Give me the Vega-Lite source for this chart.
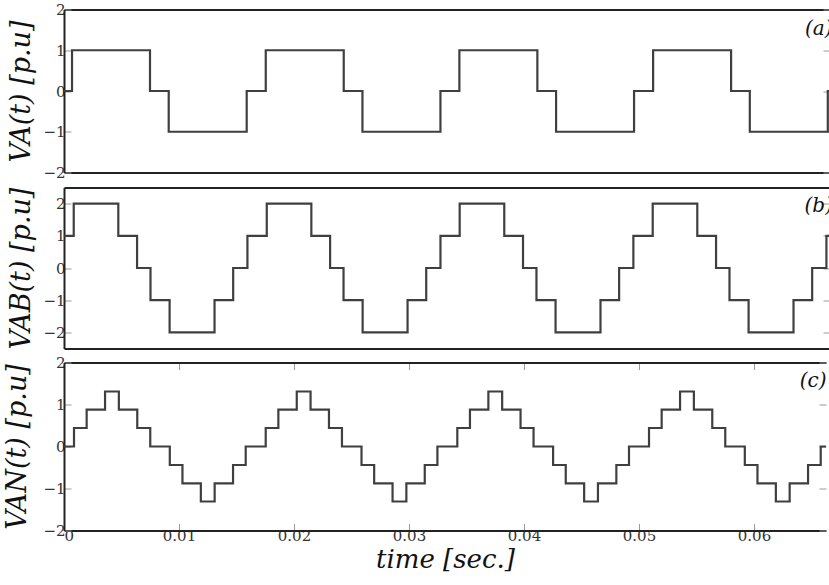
{
  "$schema": "https://vega.github.io/schema/vega-lite/v6.json",
  "background": "white",
  "autosize": {"type": "pad"},
  "padding": {"left": 3, "top": 2.5, "right": 0, "bottom": 0},
  "datasets": {
    "a": [
      {"t": 0, "v": 0}, {"t": 0.00069, "v": 1}, {"t": 0.0074, "v": 0}, {"t": 0.00901, "v": -1}, {"t": 0.01572, "v": 0},
      {"t": 0.01736, "v": 1}, {"t": 0.02407, "v": 0}, {"t": 0.02568, "v": -1}, {"t": 0.03239, "v": 0},
      {"t": 0.03402, "v": 1}, {"t": 0.04073, "v": 0}, {"t": 0.04234, "v": -1}, {"t": 0.04905, "v": 0},
      {"t": 0.05069, "v": 1}, {"t": 0.0574, "v": 0}, {"t": 0.05901, "v": -1}, {"t": 0.06572, "v": 0},
      {"t": 0.0667, "v": 0}
    ],
    "b": [
      {"t": 0, "v": 1}, {"t": 0.00084, "v": 2}, {"t": 0.00469, "v": 1}, {"t": 0.00631, "v": 0}, {"t": 0.00747, "v": -1}, {"t": 0.00912, "v": -2}, {"t": 0.013, "v": -1}, {"t": 0.01461, "v": 0}, {"t": 0.01584, "v": 1},
      {"t": 0.01751, "v": 2}, {"t": 0.02136, "v": 1}, {"t": 0.02298, "v": 0}, {"t": 0.02414, "v": -1}, {"t": 0.02579, "v": -2}, {"t": 0.02967, "v": -1}, {"t": 0.03128, "v": 0}, {"t": 0.03251, "v": 1},
      {"t": 0.03417, "v": 2}, {"t": 0.03802, "v": 1}, {"t": 0.03964, "v": 0}, {"t": 0.0408, "v": -1}, {"t": 0.04245, "v": -2}, {"t": 0.04633, "v": -1}, {"t": 0.04794, "v": 0}, {"t": 0.04917, "v": 1},
      {"t": 0.05084, "v": 2}, {"t": 0.05469, "v": 1}, {"t": 0.05631, "v": 0}, {"t": 0.05747, "v": -1}, {"t": 0.05912, "v": -2}, {"t": 0.063, "v": -1}, {"t": 0.06461, "v": 0}, {"t": 0.06584, "v": 1},
      {"t": 0.0667, "v": 1}
    ],
    "c": [
      {"t": 0, "v": 0}, {"t": 0.00087, "v": 0.44}, {"t": 0.00197, "v": 0.88}, {"t": 0.00357, "v": 1.31}, {"t": 0.00477, "v": 0.88}, {"t": 0.00637, "v": 0.44}, {"t": 0.0075, "v": 0}, {"t": 0.0092, "v": -0.44}, {"t": 0.0103, "v": -0.88}, {"t": 0.0119, "v": -1.31}, {"t": 0.0131, "v": -0.88}, {"t": 0.0147, "v": -0.44}, {"t": 0.0158, "v": 0},
      {"t": 0.01754, "v": 0.44}, {"t": 0.01864, "v": 0.88}, {"t": 0.02024, "v": 1.31}, {"t": 0.02144, "v": 0.88}, {"t": 0.02304, "v": 0.44}, {"t": 0.02417, "v": 0}, {"t": 0.02587, "v": -0.44}, {"t": 0.02697, "v": -0.88}, {"t": 0.02857, "v": -1.31}, {"t": 0.02977, "v": -0.88}, {"t": 0.03137, "v": -0.44}, {"t": 0.03247, "v": 0},
      {"t": 0.0342, "v": 0.44}, {"t": 0.0353, "v": 0.88}, {"t": 0.0369, "v": 1.31}, {"t": 0.0381, "v": 0.88}, {"t": 0.0397, "v": 0.44}, {"t": 0.04083, "v": 0}, {"t": 0.04253, "v": -0.44}, {"t": 0.04363, "v": -0.88}, {"t": 0.04523, "v": -1.31}, {"t": 0.04643, "v": -0.88}, {"t": 0.04803, "v": -0.44}, {"t": 0.04913, "v": 0},
      {"t": 0.05087, "v": 0.44}, {"t": 0.05197, "v": 0.88}, {"t": 0.05357, "v": 1.31}, {"t": 0.05477, "v": 0.88}, {"t": 0.05637, "v": 0.44}, {"t": 0.0575, "v": 0}, {"t": 0.0592, "v": -0.44}, {"t": 0.0603, "v": -0.88}, {"t": 0.0619, "v": -1.31}, {"t": 0.0631, "v": -0.88}, {"t": 0.0647, "v": -0.44}, {"t": 0.0658, "v": 0},
      {"t": 0.0667, "v": 0}
    ]
  },
  "columns": 1,
  "align": "none",
  "spacing": 6,
  "concat": [
    {
      "width": 766,
      "height": 163,
      "layer": [
        {
          "data": {"name": "a"},
          "mark": {"type": "line", "interpolate": "step-after", "clip": true, "color": "#3f3f3f", "strokeWidth": 2.2},
          "encoding": {
            "x": {"field": "t", "type": "quantitative", "scale": {"domain": [0, 0.06591], "nice": false, "zero": false}, "axis": {"orient": "bottom", "ticks": false, "labels": false, "title": null}},
            "y": {"field": "v", "type": "quantitative", "scale": {"domain": [-2, 2], "nice": false, "zero": false}, "axis": {"orient": "left", "values": [-2, -1, 0, 1, 2], "title": "VA(t) [p.u]"}}
          }
        },
        {
          "data": {"values": [{}]},
          "mark": {"type": "text", "clip": true, "font": "DejaVu Serif", "fontStyle": "italic", "fontSize": 20, "align": "left", "baseline": "middle", "color": "#111"},
          "encoding": {
            "x": {"datum": 0.06376, "type": "quantitative", "axis": {"orient": "top", "ticks": false, "labels": false, "title": null}},
            "y": {"datum": 1.51, "type": "quantitative", "axis": {"orient": "right", "values": [-2, -1, 0, 1, 2], "labels": false, "domain": false, "title": null}},
            "text": {"value": "(a)"}
          }
        }
      ],
      "resolve": {"axis": {"x": "independent", "y": "independent"}}
    },
    {
      "width": 766,
      "height": 161,
      "layer": [
        {
          "data": {"name": "b"},
          "mark": {"type": "line", "interpolate": "step-after", "clip": true, "color": "#3f3f3f", "strokeWidth": 2.2},
          "encoding": {
            "x": {"field": "t", "type": "quantitative", "scale": {"domain": [0, 0.06615], "nice": false, "zero": false}, "axis": {"orient": "bottom", "ticks": false, "labels": false, "title": null}},
            "y": {"field": "v", "type": "quantitative", "scale": {"domain": [-2.5, 2.5], "nice": false, "zero": false}, "axis": {"orient": "left", "values": [-2, -1, 0, 1, 2], "title": "VAB(t) [p.u]"}}
          }
        },
        {
          "data": {"values": [{}]},
          "mark": {"type": "text", "clip": true, "font": "DejaVu Serif", "fontStyle": "italic", "fontSize": 20, "align": "left", "baseline": "middle", "color": "#111"},
          "encoding": {
            "x": {"datum": 0.06395, "type": "quantitative", "axis": {"orient": "top", "ticks": false, "labels": false, "title": null}},
            "y": {"datum": 1.93, "type": "quantitative", "axis": {"orient": "right", "values": [-2, -1, 0, 1, 2], "labels": false, "domain": false, "title": null}},
            "text": {"value": "(b)"}
          }
        }
      ],
      "resolve": {"axis": {"x": "independent", "y": "independent"}}
    },
    {
      "width": 762,
      "height": 168,
      "layer": [
        {
          "data": {"name": "c"},
          "mark": {"type": "line", "interpolate": "step-after", "clip": true, "color": "#3f3f3f", "strokeWidth": 2.2},
          "encoding": {
            "x": {"field": "t", "type": "quantitative", "scale": {"domain": [0, 0.06626], "nice": false, "zero": false}, "axis": {"orient": "bottom", "values": [0, 0.01, 0.02, 0.03, 0.04, 0.05, 0.06], "format": "~g", "labelPadding": 5, "title": "time [sec.]", "titleFontSize": 26, "titlePadding": 3}},
            "y": {"field": "v", "type": "quantitative", "scale": {"domain": [-2, 2], "nice": false, "zero": false}, "axis": {"orient": "left", "values": [-2, -1, 0, 1, 2], "title": "VAN(t) [p.u]", "titlePadding": 10.9}}
          }
        },
        {
          "data": {"values": [{}]},
          "mark": {"type": "text", "clip": true, "font": "DejaVu Serif", "fontStyle": "italic", "fontSize": 20, "align": "left", "baseline": "middle", "color": "#111"},
          "encoding": {
            "x": {"datum": 0.06397, "type": "quantitative", "axis": {"orient": "top", "values": [0.01, 0.02, 0.03, 0.04, 0.05, 0.06], "labels": false, "title": null}},
            "y": {"datum": 1.55, "type": "quantitative", "axis": {"orient": "right", "values": [-2, -1, 0, 1, 2], "labels": false, "domain": false, "title": null}},
            "text": {"value": "(c)"}
          }
        }
      ],
      "resolve": {"axis": {"x": "independent", "y": "independent"}}
    }
  ],
  "config": {
    "view": {"stroke": null},
    "axis": {
      "grid": false,
      "labelFont": "DejaVu Serif",
      "labelFontSize": 15,
      "labelColor": "#333333",
      "labelPadding": 6,
      "titleFont": "DejaVu Serif",
      "titleFontStyle": "italic",
      "titleFontWeight": "normal",
      "titleFontSize": 27,
      "titleColor": "#111111",
      "titlePadding": 7.5,
      "domainColor": "#222222",
      "domainWidth": 2,
      "tickColor": "#9a9a9a",
      "tickSize": -7,
      "tickWidth": 1
    }
  }
}
